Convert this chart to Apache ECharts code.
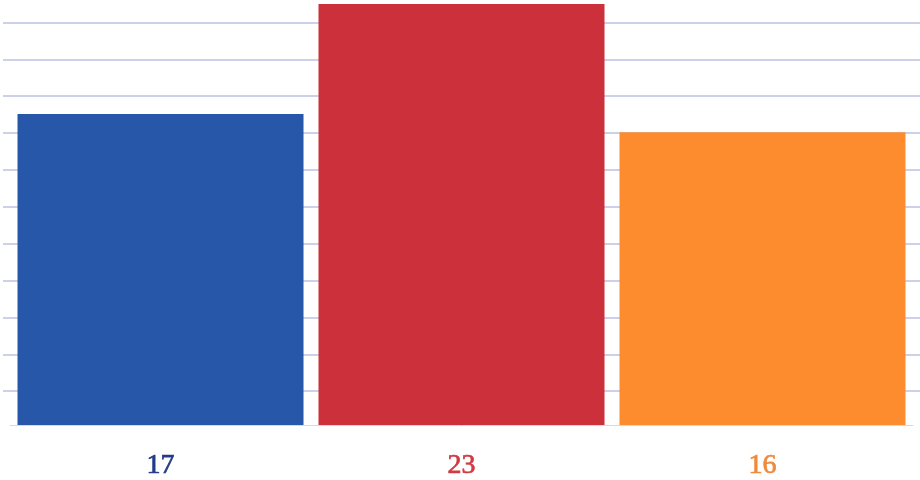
<!DOCTYPE html>
<html>
<head>
<meta charset="utf-8">
<script src="https://cdn.jsdelivr.net/npm/echarts@6/dist/echarts.min.js"></script>
<style>html,body{margin:0;padding:0;background:#fff;}#c{width:920px;height:480px;}</style>
</head>
<body>
<div id="c"></div>
<script>
const categories = ['17', '23', '16'];
const values = [17, 23, 16];
const barColors = ['#2757a8', '#cc303a', '#fd8c2f'];
const labelColors = ['#243c86', '#d03a40', '#f08a3a'];

const chart = echarts.init(document.getElementById('c'));
const rich = {};
labelColors.forEach((c, i) => {
  rich['c' + i] = { color: c, fontFamily: 'Liberation Serif, serif', fontSize: 28, textBorderColor: c, textBorderWidth: 0.7 };
});
chart.setOption({
  animation: false,
  backgroundColor: '#ffffff',
  grid: [
    { left: 10, right: 7, top: 4, bottom: 52, containLabel: false },
    { left: 3, right: 0, top: 4, bottom: 52, containLabel: false }
  ],
  xAxis: [{
    type: 'category',
    gridIndex: 0,
    data: categories,
    z: 3,
    axisLine: { show: true, lineStyle: { color: '#d8d8e4', width: 1 } },
    axisTick: { show: false },
    axisLabel: {
      margin: 26,
      formatter: (v, i) => '{c' + i + '|' + v + '}',
      rich: rich
    }
  }, {
    type: 'category',
    gridIndex: 1,
    data: categories,
    show: false
  }],
  yAxis: [{
    type: 'value',
    gridIndex: 0,
    min: 0,
    max: 23,
    interval: 2,
    axisLine: { show: false },
    axisTick: { show: false },
    axisLabel: { show: false },
    splitLine: { show: false }
  }, {
    type: 'value',
    gridIndex: 1,
    min: 0,
    max: 23,
    interval: 2,
    axisLine: { show: false },
    axisTick: { show: false },
    axisLabel: { show: false },
    splitLine: { show: true, showMaxLine: false, showMinLine: false, lineStyle: { color: '#bcc0e2', width: 1.5 } }
  }],
  series: [{
    type: 'bar',
    xAxisIndex: 0,
    yAxisIndex: 0,
    barWidth: 286,
    data: values.map((v, i) => ({ value: v, itemStyle: { color: barColors[i] } }))
  }]
});
</script>
</body>
</html>
